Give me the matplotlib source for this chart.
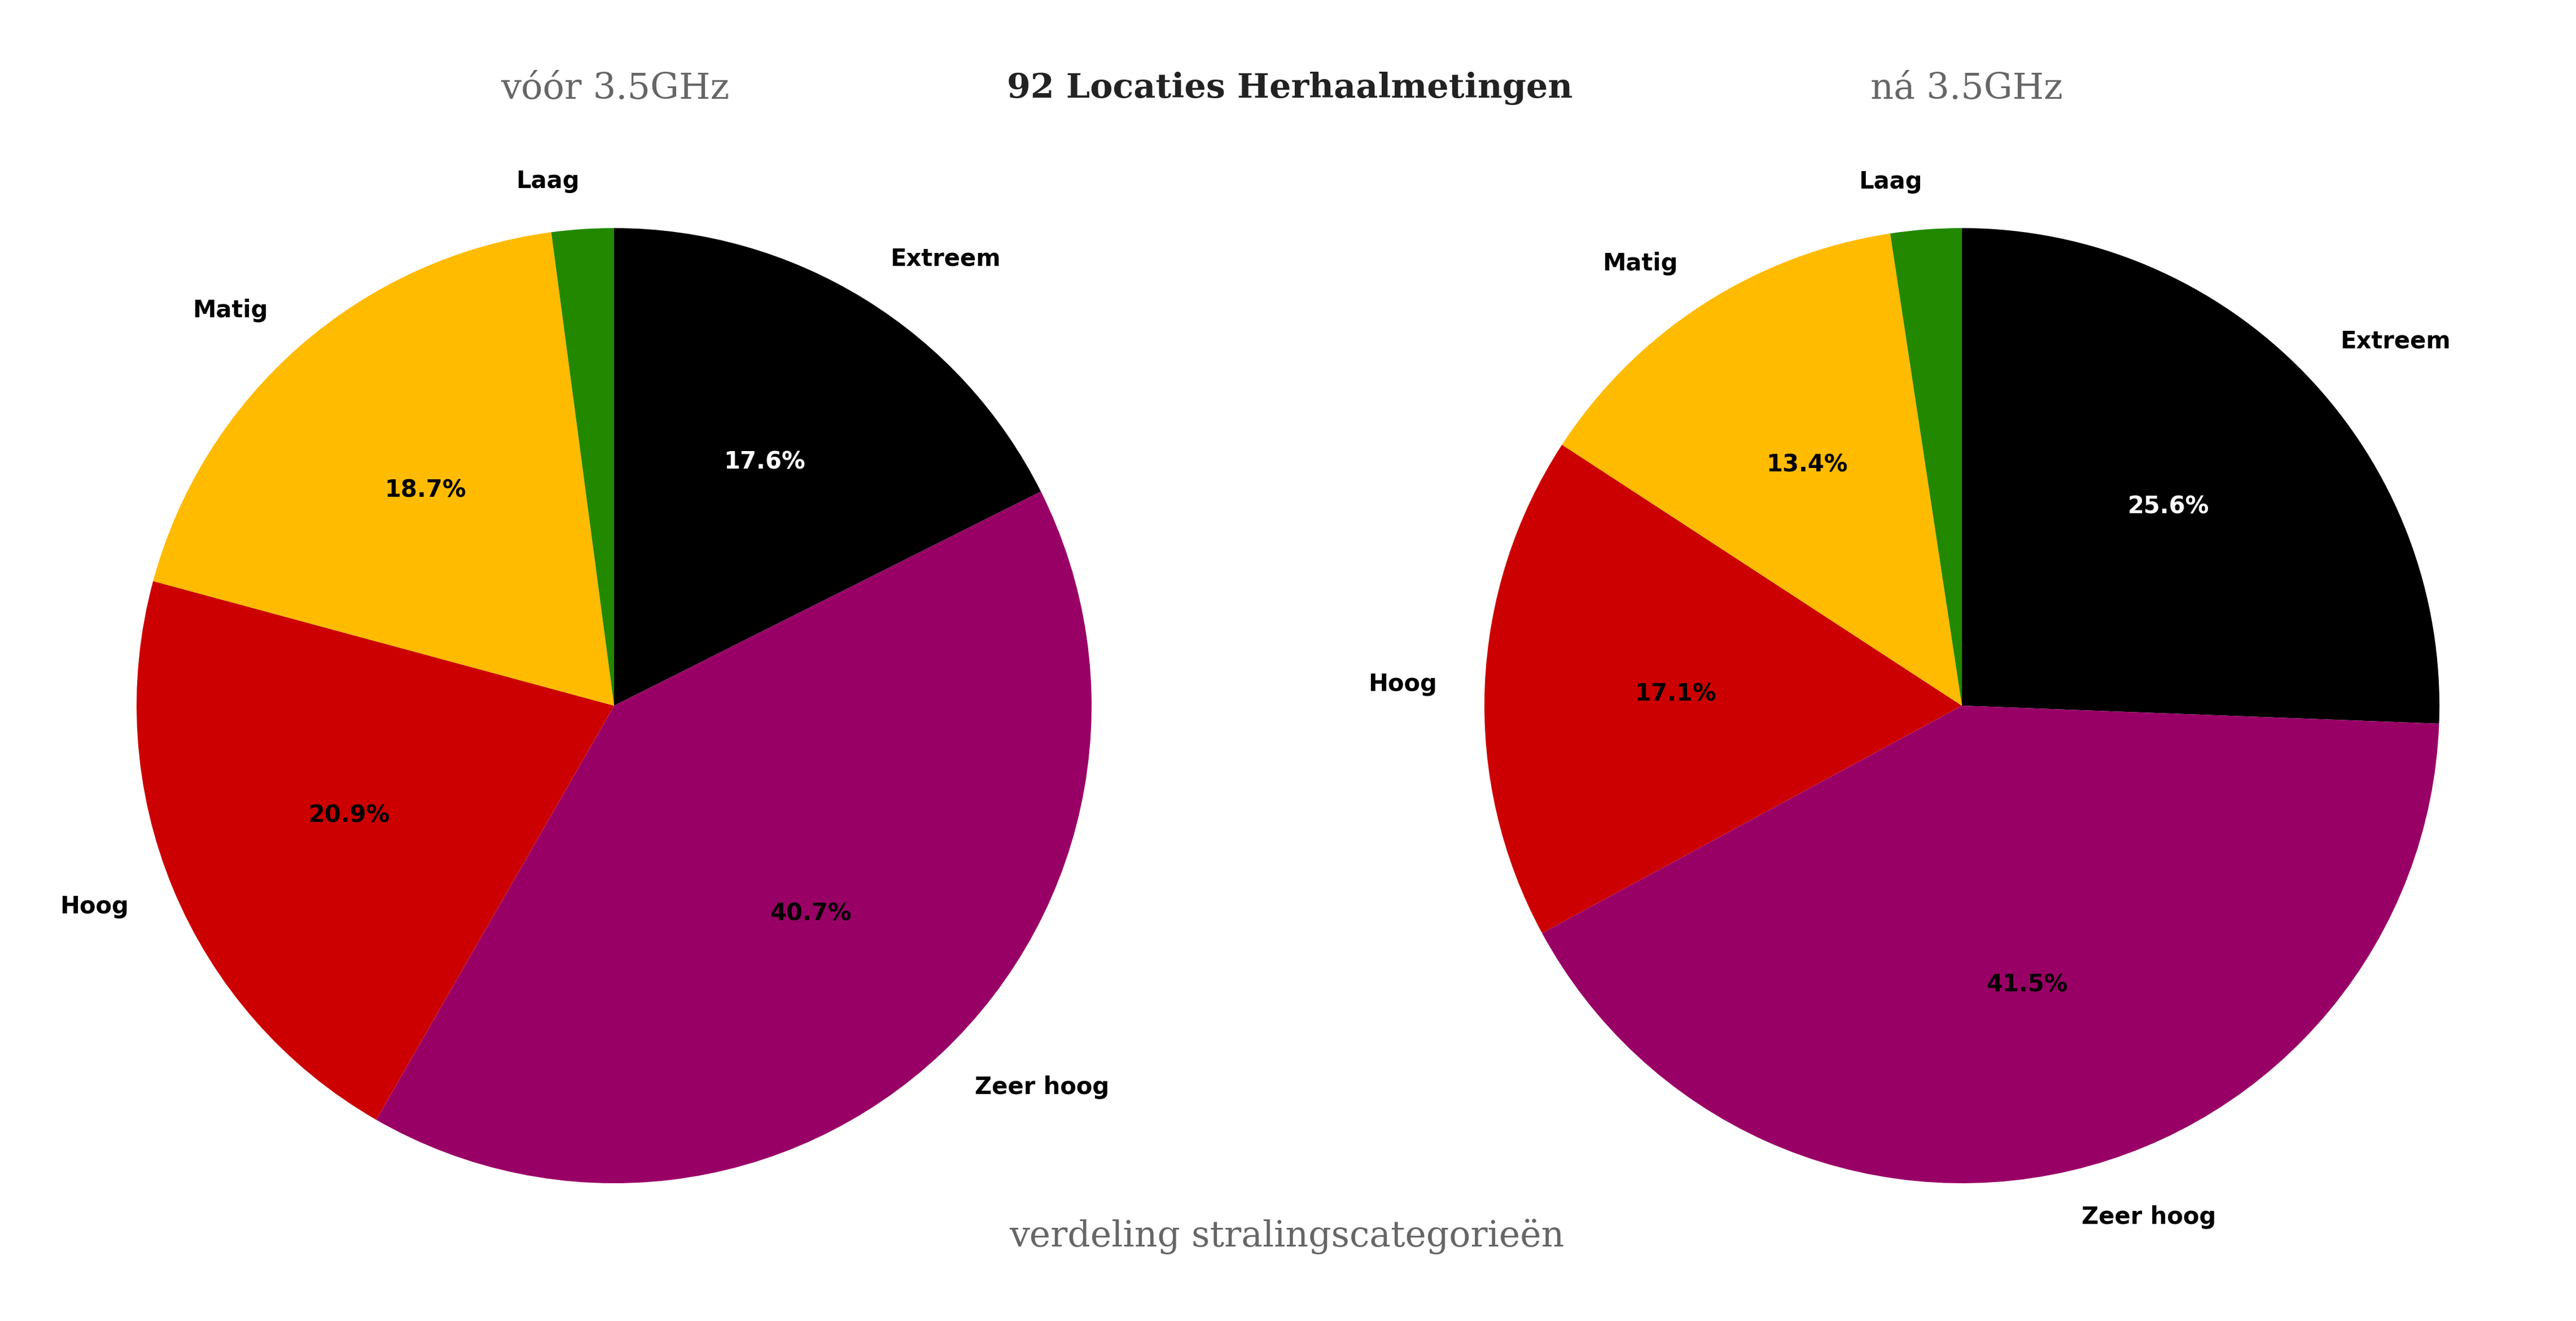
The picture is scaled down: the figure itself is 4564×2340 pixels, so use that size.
import matplotlib.pyplot as plt

categories = ['Extreem', 'Zeer hoog', 'Hoog', 'Matig', 'Laag']
voor_pct = [17.6, 40.7, 20.9, 18.7, 2.1]
na_pct = [25.6, 41.5, 17.1, 13.4, 2.4]
colors = ['#000000', '#990066', '#CC0000', '#FFBB00', '#228800']
pct_colors = ['white', 'black', 'black', 'black', 'black']

title = '92 Locaties Herhaalmetingen'
sub_left = 'vóór 3.5GHz'
sub_right = 'ná 3.5GHz'
footer = 'verdeling stralingscategorieën'

W, H = 4564, 2340
dpi = 300
fig = plt.figure(figsize=(W / dpi, H / dpi), dpi=dpi)

r_px = 846
cy_px = 1250
side = 2.5 * r_px


def draw_pie(cx_px, values):
    ax = fig.add_axes([(cx_px - side / 2) / W, (H - cy_px - side / 2) / H,
                       side / W, side / H])
    wedges, texts, autotexts = ax.pie(
        values, labels=categories, colors=colors, startangle=90,
        counterclock=False,
        autopct=lambda p: f'{p:.1f}%' if p > 5 else '',
        textprops={'fontsize': 10, 'fontweight': 'bold'})
    for t, c in zip(autotexts, pct_colors):
        t.set_color(c)
    ax.set_xlim(-1.25, 1.25)
    ax.set_ylim(-1.25, 1.25)
    ax.set_aspect('equal')
    return ax


draw_pie(1088, voor_pct)
draw_pie(3476, na_pct)

serif = ['DejaVu Serif']
fig.text(1090 / W, 1 - 157 / H, sub_left, ha='center', va='center',
         fontsize=15.3, color='#666666', family=serif)
fig.text(3484 / W, 1 - 157 / H, sub_right, ha='center', va='center',
         fontsize=15.3, color='#666666', family=serif)
fig.text(2285 / W, 1 - 157 / H, title, ha='center', va='center',
         fontsize=14.5, fontweight='bold', color='#222222', family=serif)
fig.text(2280 / W, 1 - 2190 / H, footer, ha='center', va='center',
         fontsize=15.2, color='#666666', family=serif)

fig.savefig('out.png', dpi=dpi)
